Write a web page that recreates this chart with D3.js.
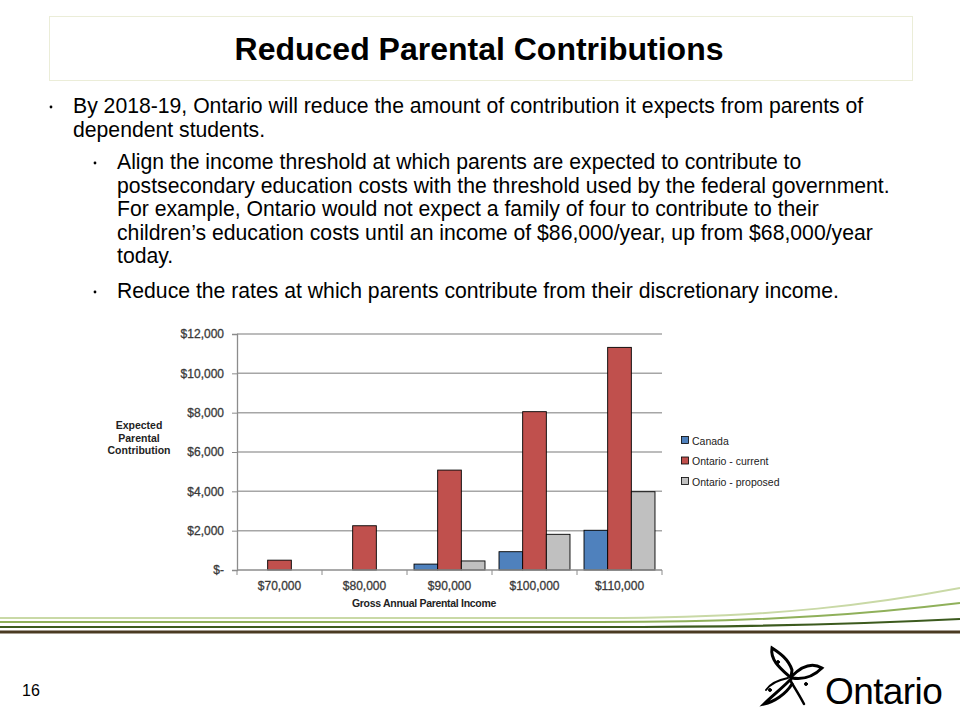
<!DOCTYPE html>
<html><head><meta charset="utf-8">
<script src="https://cdn.jsdelivr.net/npm/d3@7"></script>
<style>body{margin:0;background:#fff}svg{display:block}</style>
</head><body>
<script>
const categories = ["$70,000","$80,000","$90,000","$100,000","$110,000"];
const seriesNames = ["Canada","Ontario - current","Ontario - proposed"];
const canada = [0,0,300,930,2020];
const ontarioCurrent = [500,2250,5080,8050,11320];
const ontarioProposed = [0,0,460,1815,3980];
const yTicks = [0,2000,4000,6000,8000,10000,12000];
const seriesColors = ["#4F81BD","#C0504D","#C0C0C0"];

const W=960,H=720;
const svg=d3.select("body").append("svg").attr("width",W).attr("height",H).style("font-family","'Liberation Sans', Arial, sans-serif");

// Title box
svg.append("rect").attr("x",49.5).attr("y",16.5).attr("width",863).attr("height",64)
  .attr("fill","none").attr("stroke","#d6dab0").attr("stroke-dasharray","1,1");
svg.append("text").attr("x",479).attr("y",60).attr("text-anchor","middle")
  .attr("font-size",32).attr("font-weight","bold").attr("fill","#000")
  .text("Reduced Parental Contributions");

// Bullets
const bullets=[
  {lvl:0,lines:["By 2018-19, Ontario will reduce the amount of contribution it expects from parents of","dependent students."],y:113},
  {lvl:1,lines:["Align the income threshold at which parents are expected to contribute to","postsecondary education costs with the threshold used by the federal government.","For example, Ontario would not expect a family of four to contribute to their","children\u2019s education costs until an income of $86,000/year, up from $68,000/year","today."],y:169},
  {lvl:1,lines:["Reduce the rates at which parents contribute from their discretionary income."],y:298}
];
bullets.forEach(b=>{
  svg.append("circle").attr("cx",b.lvl?95:51).attr("cy",b.y-6).attr("r",1.4).attr("fill","#000");
  b.lines.forEach((l,i)=>{
    svg.append("text").attr("x",b.lvl?117:73).attr("y",b.y+i*23.6).attr("font-size",21.2).attr("fill","#000").text(l);
  });
});

// Chart
const plot={l:237,r:662,t:334,b:570};
const x=d3.scaleBand().domain(categories).range([plot.l,plot.r]).paddingInner(0.165).paddingOuter(0.0825);
const xs=d3.scaleBand().domain(seriesNames).range([0,x.bandwidth()]);
const y=d3.scaleLinear().domain([0,12000]).range([plot.b,plot.t]);

const g=svg.append("g");
g.selectAll(".grid").data(yTicks.filter(d=>d>0)).enter().append("line")
  .attr("x1",plot.l).attr("x2",plot.r).attr("y1",d=>y(d)).attr("y2",d=>y(d))
  .attr("stroke","#a6a6a6").attr("stroke-width",1.5);

const yAxis=d3.axisLeft(y).tickValues(yTicks).tickSize(5).tickPadding(8)
  .tickFormat(d=>d===0?"$-":"$"+d3.format(",")(d));
const ya=g.append("g").attr("transform",`translate(${plot.l},0)`).call(yAxis);
ya.select(".domain").attr("stroke","#8c8c8c").attr("stroke-width",1.3);
ya.selectAll(".tick line").attr("stroke","#8c8c8c");
ya.selectAll("text").attr("font-size",12).attr("fill","#3a3a3a").attr("font-family","'Liberation Sans', Arial, sans-serif").attr("stroke","#3a3a3a").attr("stroke-width",0.3);

const data=[canada,ontarioCurrent,ontarioProposed];
categories.forEach((c,i)=>{
  data.forEach((s,j)=>{
    if(s[i]<=0) return;
    g.append("rect").attr("x",x(c)+xs(seriesNames[j])).attr("y",y(s[i]))
      .attr("width",xs.bandwidth()).attr("height",y(0)-y(s[i]))
      .attr("fill",seriesColors[j]).attr("stroke","#000").attr("stroke-width",0.9);
  });
});

const xAxis=d3.axisBottom(x).tickSize(0).tickPadding(11);
const xa=g.append("g").attr("transform",`translate(0,${plot.b})`).call(xAxis);
xa.select(".domain").remove();
g.append("line").attr("x1",plot.l).attr("x2",plot.r).attr("y1",plot.b).attr("y2",plot.b).attr("stroke","#8c8c8c").attr("stroke-width",1.3);
const bounds=categories.map(c=>x(c)-x.step()*x.paddingInner()/2).concat([plot.r]);
g.selectAll(".xt").data(bounds).enter().append("line")
  .attr("x1",d=>d).attr("x2",d=>d).attr("y1",plot.b).attr("y2",plot.b+5).attr("stroke","#8c8c8c");
xa.selectAll("text").attr("font-size",12).attr("fill","#3a3a3a").attr("font-family","'Liberation Sans', Arial, sans-serif").attr("stroke","#3a3a3a").attr("stroke-width",0.3);

g.append("text").attr("x",424).attr("y",607).attr("text-anchor","middle").attr("font-size",10.5)
  .attr("font-weight","bold").attr("fill","#222").attr("letter-spacing","-0.3").text("Gross Annual Parental Income");
const yt=g.append("text").attr("text-anchor","middle").attr("font-size",10.5).attr("font-weight","bold").attr("fill","#222");
["Expected","Parental","Contribution"].forEach((t,i)=>yt.append("tspan").attr("x",139).attr("y",429+i*12.5).text(t));

seriesNames.forEach((n,i)=>{
  const ly=441+i*20.5;
  g.append("rect").attr("x",681.5).attr("y",ly-4.5).attr("width",7).attr("height",7).attr("fill",seriesColors[i]).attr("stroke","#000").attr("stroke-width",0.8);
  g.append("text").attr("x",692).attr("y",ly+3.5).attr("font-size",10.5).attr("fill","#222").text(n);
});

// decorative lines
const deco=[{y:618,ey:588,c:"#c9d9a6",w:2},{y:622,ey:603,c:"#8fb05a",w:2},{y:627,ey:619,c:"#3c5a1e",w:2.2},{y:632,ey:632,c:"#4a3a22",w:3}];
deco.forEach(d=>{
  svg.append("path").attr("d",`M0,${d.y} L600,${d.y} C780,${d.y} 880,${d.y-(d.y-d.ey)*0.5} 960,${d.ey}`)
    .attr("fill","none").attr("stroke",d.c).attr("stroke-width",d.w);
});

svg.append("text").attr("x",22).attr("y",696).attr("font-size",16).attr("fill","#000").text("16");

// Ontario logo
const logo=svg.append("g").attr("fill","none").attr("stroke","#000").attr("stroke-linecap","round");
logo.append("path").attr("d","M791,678 C780,668 770,660 772,648 C778,652 788,658 792,670 Z").attr("stroke-width",3);
logo.append("path").attr("d","M792,676 C802,666 812,662 822,668 C814,676 804,680 792,678").attr("stroke-width",3);
logo.append("path").attr("d","M790,680 C780,690 772,696 764,704 C774,702 786,694 792,684").attr("stroke-width",3);
logo.append("path").attr("d","M790,680 C796,690 800,696 804,704").attr("stroke-width",2.5);
logo.append("path").attr("d","M788,678 C778,680 770,684 766,690").attr("stroke-width",2);
[[778,662],[806,684],[770,690]].forEach(p=>logo.append("circle").attr("cx",p[0]).attr("cy",p[1]).attr("r",1.5).attr("fill","#000"));
svg.append("text").attr("x",825).attr("y",704).attr("font-size",37).attr("fill","#000").attr("letter-spacing","-0.6").text("Ontario");
</script>
</body></html>
